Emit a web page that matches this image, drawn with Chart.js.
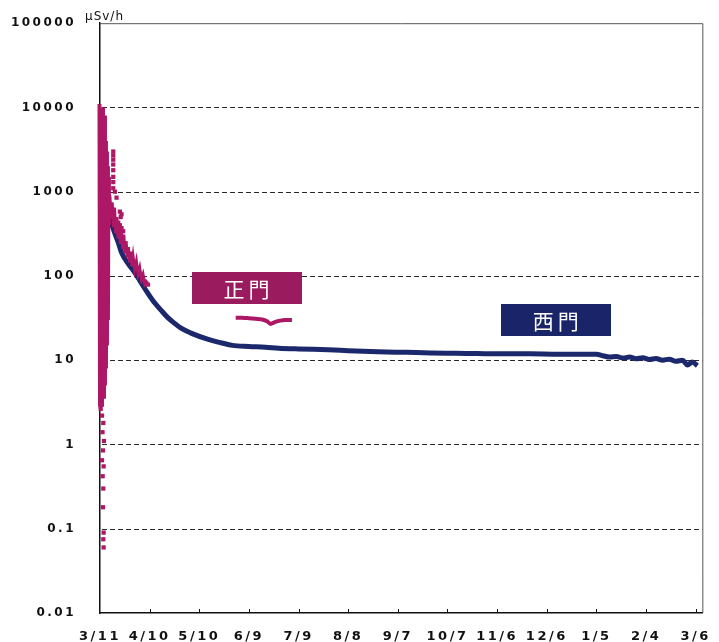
<!DOCTYPE html>
<html><head><meta charset="utf-8">
<script src="https://cdn.jsdelivr.net/npm/chart.js@4"></script>
<style>html,body{margin:0;padding:0;background:#fff}#wrap{width:719px;height:642px}</style>
</head><body><div id="wrap"><canvas id="c" width="719" height="642"></canvas></div>
<script>
// ---- data ----
const xTickDays = [0,30,60,90,120,150,180,210,240,270,300,330,360];
const xTickLabels = ['3/11','4/10','5/10','6/9','7/9','8/8','9/7','10/7','11/6','12/6','1/5','2/4','3/6'];
const yTickValues = [0.01,0.1,1,10,100,1000,10000,100000];
const yTickLabels = ['0.01','0.1','1','10','100','1000','10000','100000'];
const seriesNames = ['正門','西門'];
const unitLabel = 'μSv/h';

// 西門 (west gate)
const westDays = [4.5,5.5,7,9,11,13,17,21,25,29,33,37,41,45,49,55,65,72,80,90,100,108,120,138,150,168,185,200,215,228,245,260,275,290,300,304,308,312,316,320,324,328,332,336,340,344,348,352,355,358,361];
const westValues = [800,600,420,320,250,190,140,110,82,62,48,39,32,27.5,24,21,17.8,16.3,15.0,14.6,14.3,13.9,13.6,13.3,13.0,12.6,12.4,12.2,12.1,12.0,11.9,11.9,11.8,11.8,11.8,11.3,10.9,11.1,10.6,10.9,10.4,10.7,10.2,10.5,10.0,10.3,9.7,10.0,8.8,9.5,8.6];

// 正門 (main gate) – early dense band
const gateBandDays = [-1.2,-0.9,-0.6,-0.3,0,0.3,0.6,0.9,1.2,1.5,1.8,2.1,2.4,2.7,3.0,3.3,3.6,3.9,4.2,4.5,4.8,5.1,5.4];
const gateBandValues = [3,9000,2.6,11000,3,10000,2.5,9000,2.8,10000,4,6000,3.5,8000,5,4000,8,3000,15,2000,30,1500,400];
// 正門 – readings over the first month
const gateClusterDays = [6,6.7,7.4,8.1,8.8,9.5,10.2,10.9,11.6,12.3,13,13.7,14.4,15.1,15.8,16.5,17.2,17.9,18.6,19.3,20,21,22,23,24,25,26,27,28];
const gateClusterValues = [900,480,750,380,650,320,500,280,420,240,360,210,310,185,260,165,220,145,195,130,170,120,150,105,125,92,105,82,90];
// 正門 – scattered readings
const gateDotDays = [1.2,2.0,1.5,2.4,1.8,1.2,2.2,1.6,2.0,1.8,2.2,2.0,2.2,
  8,8,8,8,8,8,8,8,9,10,12,13,12.5,11,12,13,14,27,28,29];
const gateDotValues = [2.2,1.8,1.4,1.1,0.85,0.65,0.55,0.42,0.3,0.18,0.09,0.075,0.06,
  3000,2700,2400,2100,1800,1500,1300,1100,1000,850,580,540,500,430,400,370,340,86,82,79];
// 正門 – summer readings
const gateSummerDays = [82,86,90,94,98,101,103,106,109,112,116];
const gateSummerValues = [32,32,31.5,31,30.5,29,27,28.5,29.5,30,30];

const magenta = '#ad1866';
const navy = '#1c286c';
const boxLabels = [
  {text: seriesNames[0], day: 88.6, value: 72.8, fill: '#9b1c5e'},
  {text: seriesNames[1], day: 275.4, value: 29.9, fill: '#1a2468'}
];

const zip = (xs, ys) => xs.map((x, i) => ({x, y: ys[i]}));

const spacingPlugin = {
  id: 'spacing',
  beforeLayout(chart){ chart.ctx.letterSpacing = '2.5px'; },
  beforeDraw(chart){ chart.ctx.letterSpacing = '2.5px'; }
};

const decorPlugin = {
  id: 'decor',
  beforeDatasetsDraw(chart){
    const {ctx, chartArea: a, scales} = chart;
    ctx.save();
    ctx.strokeStyle = '#2a2a2a';
    ctx.lineWidth = 1;
    ctx.setLineDash([5,3]);
    yTickValues.forEach((v, i) => {
      if (i === 0 || i === yTickValues.length - 1) return;
      const y = Math.round(scales.y.getPixelForValue(v)) + 0.5;
      ctx.beginPath(); ctx.moveTo(a.left + 2, y); ctx.lineTo(a.right, y); ctx.stroke();
    });
    ctx.setLineDash([]);
    // top & right frame
    ctx.strokeStyle = '#555';
    ctx.beginPath();
    ctx.moveTo(a.left, a.top + 0.5); ctx.lineTo(a.right + 0.5, a.top + 0.5); ctx.lineTo(a.right + 0.5, a.bottom);
    ctx.stroke();
    // inward x ticks
    ctx.strokeStyle = '#111';
    xTickDays.forEach((d, i) => {
      if (i === 0) return;
      const x = Math.round(scales.x.getPixelForValue(d)) + 0.5;
      ctx.beginPath(); ctx.moveTo(x, a.bottom); ctx.lineTo(x, a.bottom - 4); ctx.stroke();
    });
    ctx.restore();
  },
  afterDatasetsDraw(chart){
    const {ctx, chartArea: a, scales} = chart;
    ctx.save();
    // unit label
    ctx.letterSpacing = '1px';
    ctx.fillStyle = '#111';
    ctx.font = '12px "DejaVu Sans"';
    ctx.textAlign = 'left';
    ctx.textBaseline = 'alphabetic';
    ctx.fillText(unitLabel, a.left - 15, a.top - 3);
    // series label boxes
    boxLabels.forEach(b => {
      const cx = scales.x.getPixelForValue(b.day);
      const cy = scales.y.getPixelForValue(b.value);
      const w = 110, h = 32;
      ctx.fillStyle = b.fill;
      ctx.fillRect(Math.round(cx - w/2), Math.round(cy - h/2), w, h);
      ctx.fillStyle = '#fff';
      ctx.font = '21px "Noto Sans CJK JP"';
      ctx.letterSpacing = '4px';
      ctx.textAlign = 'center';
      ctx.textBaseline = 'middle';
      ctx.fillText(b.text, cx + 2, cy + 1);
    });
    ctx.restore();
  }
};

new Chart(document.getElementById('c'), {
  type: 'scatter',
  data: {
    datasets: [
      {label: seriesNames[0], data: zip(gateBandDays, gateBandValues), showLine: true, borderColor: magenta, borderWidth: 4, pointRadius: 0, tension: 0, clip: false},
      {label: seriesNames[0], data: zip(gateDotDays, gateDotValues), showLine: false, pointStyle: 'rect', pointRadius: 3, backgroundColor: magenta, borderWidth: 0, clip: false},
      {label: seriesNames[0], data: zip(gateClusterDays, gateClusterValues), showLine: true, borderColor: magenta, borderWidth: 3, pointRadius: 0, tension: 0},
      {label: seriesNames[0], data: zip(gateSummerDays, gateSummerValues), showLine: true, borderColor: magenta, borderWidth: 4, pointRadius: 0, tension: 0.2},
      {label: seriesNames[1], data: zip(westDays, westValues), showLine: true, borderColor: navy, borderWidth: 5, pointRadius: 0, cubicInterpolationMode: 'monotone'}
    ]
  },
  options: {
    responsive: false,
    animation: false,
    devicePixelRatio: 1,
    layout: {padding: {top: 23, right: 11, left: 0, bottom: 0}},
    plugins: {legend: {display: false}, tooltip: {enabled: false}},
    scales: {
      x: {
        type: 'linear', min: 0, max: 364,
        afterBuildTicks: s => { s.ticks = xTickDays.map(v => ({value: v})); },
        afterFit: s => { s.height = 29; },
        ticks: {
          callback: v => xTickLabels[xTickDays.indexOf(v)],
          color: '#111', font: {family: '"DejaVu Sans"', size: 13, weight: 'bold'}, padding: 8,
          maxRotation: 0, autoSkip: false
        },
        grid: {display: false},
        border: {display: true, color: '#111', width: 1.5}
      },
      y: {
        type: 'logarithmic', min: 0.01, max: 100000,
        afterBuildTicks: s => { s.ticks = yTickValues.map(v => ({value: v})); },
        afterFit: s => { s.width = 100; },
        ticks: {
          callback: v => yTickLabels[yTickValues.indexOf(v)],
          color: '#111', font: {family: '"DejaVu Sans"', size: 12, weight: 'bold'}, padding: 16, autoSkip: false
        },
        grid: {display: false},
        border: {display: true, color: '#111', width: 1.5}
      }
    }
  },
  plugins: [spacingPlugin, decorPlugin]
});
</script>
</body></html>
